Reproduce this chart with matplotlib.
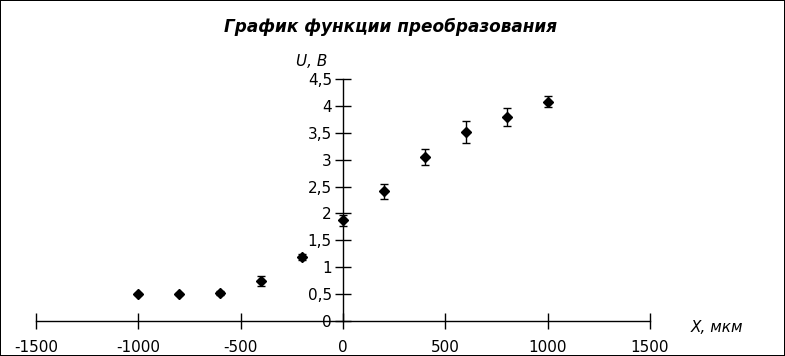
import matplotlib
matplotlib.use("Agg")
import matplotlib.pyplot as plt
from matplotlib.ticker import FuncFormatter

x_vals = [-1000, -800, -600, -400, -200, 0, 200, 400, 600, 800, 1000]
u_vals = [0.50, 0.50, 0.52, 0.74, 1.19, 1.87, 2.41, 3.05, 3.51, 3.79, 4.08]
u_err = [0.02, 0.02, 0.04, 0.09, 0.05, 0.10, 0.14, 0.14, 0.20, 0.17, 0.10]
x_ticks = [-1500, -1000, -500, 0, 500, 1000, 1500]
y_ticks = [0, 0.5, 1, 1.5, 2, 2.5, 3, 3.5, 4, 4.5]

fig = plt.figure(figsize=(7.85, 3.56), dpi=100)
fig.patch.set_edgecolor("black")
fig.patch.set_linewidth(1.2)
ax = fig.add_axes([36/785, 35/356, 614/785, 242/356])

ax.errorbar(x_vals, u_vals, yerr=u_err, fmt="D", color="black", markersize=5,
            ecolor="black", elinewidth=1, capsize=3, capthick=1)

ax.set_xlim(-1500, 1500)
ax.set_ylim(0, 4.5)
ax.spines["left"].set_position(("data", 0))
ax.spines["bottom"].set_position(("data", 0))
ax.spines["right"].set_visible(False)
ax.spines["top"].set_visible(False)
for s in ("left", "bottom"):
    ax.spines[s].set_linewidth(1)
ax.set_xticks(x_ticks)
ax.set_yticks(y_ticks)
ax.yaxis.set_major_formatter(FuncFormatter(lambda v, p: ("%g" % v).replace(".", ",")))
ax.xaxis.set_major_formatter(FuncFormatter(lambda v, p: "%d" % v))
ax.tick_params(axis="x", direction="inout", length=12, width=1, pad=8, labelsize=11)
ax.tick_params(axis="y", direction="inout", length=12, width=1, pad=2, labelsize=11)
ax.patch.set_visible(False)

fig.text(391/785, 1 - 27/356, "График функции преобразования", ha="center", va="center",
         fontsize=12.2, fontweight="bold", fontstyle="italic")
fig.text(312/785, 1 - 62/356, "U, В", ha="center", va="center", fontsize=11, fontstyle="italic")
fig.text(717/785, 1 - 327/356, "X, мкм", ha="center", va="center", fontsize=11, fontstyle="italic")

fig.savefig("out.png", dpi=100, edgecolor=fig.get_edgecolor())
